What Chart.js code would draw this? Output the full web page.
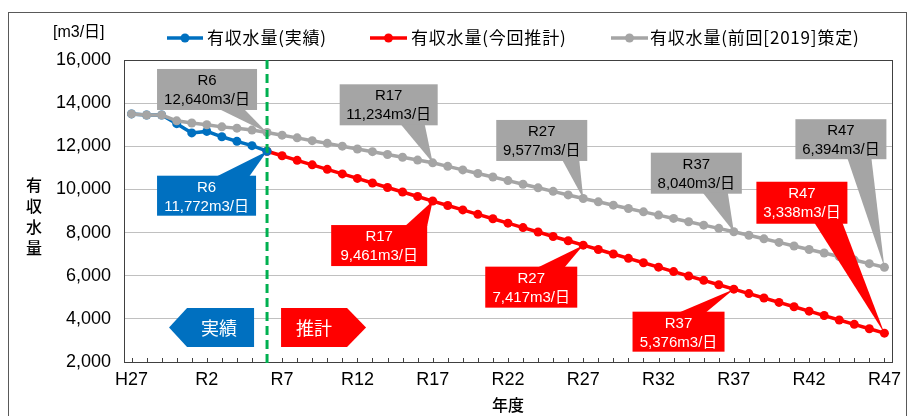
<!DOCTYPE html>
<html>
<head>
<meta charset="utf-8">
<script src="https://cdn.jsdelivr.net/npm/chart.js"></script>
<title>有収水量</title>
<style>
  body { margin: 0; background: #fff; }
</style>
</head>
<body>
<canvas id="myChart" width="908" height="416"></canvas>
<script>

// 年度 (H27 = 2015 ... R47 = 2065)
const years = ['H27','H28','H29','H30','R1','R2','R3','R4','R5','R6',
  'R7','R8','R9','R10','R11','R12','R13','R14','R15','R16',
  'R17','R18','R19','R20','R21','R22','R23','R24','R25','R26',
  'R27','R28','R29','R30','R31','R32','R33','R34','R35','R36',
  'R37','R38','R39','R40','R41','R42','R43','R44','R45','R46','R47'];
const xTickLabels = ['H27','R2','R7','R12','R17','R22','R27','R32','R37','R42','R47'];
const yTicks = [2000, 4000, 6000, 8000, 10000, 12000, 14000, 16000];

// 有収水量(実績) H27-R6
const actual = [13500, 13450, 13450, 13050, 12620, 12690, 12440, 12230, 12030, 11772];

// 有収水量(今回推計) R6-R47
const forecast = [11772, 11560, 11350, 11140, 10930, 10720, 10510, 10300, 10090, 9880,
  9670, 9461, 9255, 9050, 8845, 8640, 8435, 8230, 8025, 7820,
  7620, 7417, 7213, 7009, 6805, 6600, 6396, 6192, 5988, 5784,
  5580, 5376, 5172, 4968, 4764, 4560, 4357, 4153, 3949, 3745,
  3541, 3338];

// 有収水量(前回[2019]策定) H27-R47
const previous = [13500, 13450, 13450, 13180, 13080, 13000, 12900, 12840, 12750, 12640,
  12515, 12390, 12260, 12135, 12005, 11875, 11750, 11620, 11490, 11360,
  11234, 11070, 10905, 10740, 10575, 10410, 10240, 10075, 9910, 9745,
  9577, 9425, 9270, 9115, 8960, 8810, 8655, 8500, 8345, 8195,
  8040, 7875, 7710, 7545, 7380, 7215, 7055, 6890, 6725, 6560,
  6394];

const seriesNames = ['有収水量(実績)', '有収水量(今回推計)', '有収水量(前回[2019]策定)'];
const colors = ['#0070C0', '#FF0000', '#A5A5A5'];

const startR6 = years.indexOf('R6');
const actualData = actual.concat(Array(years.length - actual.length).fill(null));
const forecastData = Array(startR6).fill(null).concat(forecast);

// callout boxes: dataset, year, offset of box from point, size, pointer edge and base
const callouts = [
  { ds: 2, year: 'R6',  dx: -110, dy: -63.5, w: 100, h: 41, edge: 'bottom', b0: 62, b1: 87 },
  { ds: 2, year: 'R17', dx: -93,  dy: -78.5, w: 98,  h: 41, edge: 'bottom', b0: 61, b1: 85 },
  { ds: 2, year: 'R27', dx: -87,  dy: -78.6, w: 91,  h: 41, edge: 'bottom', b0: 66, b1: 83 },
  { ds: 2, year: 'R37', dx: -83,  dy: -79,   w: 91,  h: 41, edge: 'bottom', b0: 52, b1: 77 },
  { ds: 2, year: 'R47', dx: -89,  dy: -148,  w: 91,  h: 40, edge: 'bottom', b0: 52, b1: 76 },
  { ds: 0, year: 'R6',  dx: -110, dy: 24.5,  w: 99,  h: 40, edge: 'top',    b0: 59, b1: 92 },
  { ds: 1, year: 'R17', dx: -101.5, dy: 24,  w: 96,  h: 41, edge: 'top',    b0: 74, b1: 96 },
  { ds: 1, year: 'R27', dx: -98,  dy: 21.5,  w: 92,  h: 41, edge: 'top',    b0: 52, b1: 79 },
  { ds: 1, year: 'R37', dx: -101.3, dy: 22.5, w: 92, h: 40, edge: 'top',    b0: 46, b1: 73 },
  { ds: 1, year: 'R47', dx: -128, dy: -151.4, w: 91, h: 42, edge: 'bottom', b0: 58, b1: 86 }
];

const NARROW = '"Liberation Sans Narrow", "Liberation Sans", sans-serif';
const JP = '"Noto Sans CJK JP", sans-serif';
const MIX = '"Liberation Sans", "Noto Sans CJK JP", sans-serif';

const decor = {
  id: 'decor',
  beforeDraw(chart) {
    const c = chart.ctx;
    c.save();
    c.fillStyle = '#fff';
    c.fillRect(0, 0, chart.width, chart.height);
    c.strokeStyle = '#595959';
    c.lineWidth = 1;
    c.strokeRect(8.5, 12.5, 898, 420);
    c.restore();
  },
  afterDatasetsDraw(chart) {
    const c = chart.ctx;
    const a = chart.chartArea;
    const xs = chart.scales.x;
    c.save();

    // plot frame + inner minor ticks
    c.strokeStyle = '#404040';
    c.lineWidth = 1;
    c.strokeRect(Math.round(a.left) + 0.5, Math.round(a.top) + 0.5, Math.round(a.right - a.left), Math.round(a.bottom - a.top));
    c.beginPath();
    years.forEach((y, i) => {
      const px = Math.round(xs.getPixelForValue(i)) + 0.5;
      c.moveTo(px, a.bottom);
      c.lineTo(px, a.bottom - 4);
    });
    c.stroke();

    // 実績 / 推計 arrows
    const x6 = xs.getPixelForValue(startR6);
    const top = a.bottom - 54, h = 39, mid = top + h / 2;
    c.fillStyle = colors[0];
    c.beginPath();
    c.moveTo(x6 - 13, top); c.lineTo(x6 - 80, top); c.lineTo(x6 - 98, mid);
    c.lineTo(x6 - 80, top + h); c.lineTo(x6 - 13, top + h); c.closePath(); c.fill();
    c.fillStyle = colors[1];
    c.beginPath();
    c.moveTo(x6 + 14, top); c.lineTo(x6 + 80, top); c.lineTo(x6 + 99, mid);
    c.lineTo(x6 + 80, top + h); c.lineTo(x6 + 14, top + h); c.closePath(); c.fill();
    c.fillStyle = '#fff';
    c.font = '18px ' + JP;
    c.textAlign = 'center';
    c.textBaseline = 'middle';
    c.fillText('実績', x6 - 48, mid + 1);
    c.fillText('推計', x6 + 47, mid + 1);

    // green dashed divider at R6
    c.strokeStyle = '#00B050';
    c.lineWidth = 3;
    c.setLineDash([9, 5]);
    c.beginPath();
    c.moveTo(x6, a.top);
    c.lineTo(x6, a.bottom + 4);
    c.stroke();
    c.setLineDash([]);

    // callouts
    callouts.forEach(co => {
      const idx = years.indexOf(co.year);
      const pt = chart.getDatasetMeta(co.ds).data[idx];
      const value = chart.data.datasets[co.ds].data[idx];
      const bx = pt.x + co.dx, by = pt.y + co.dy;
      c.fillStyle = colors[co.ds];
      c.fillRect(bx, by, co.w, co.h);
      const ey = co.edge === 'bottom' ? by + co.h - 1 : by + 1;
      c.beginPath();
      c.moveTo(bx + co.b0, ey);
      c.lineTo(pt.x, pt.y);
      c.lineTo(bx + co.b1, ey);
      c.closePath();
      c.fill();
      c.fillStyle = co.ds === 2 ? '#000' : '#fff';
      c.font = '15px ' + MIX;
      c.textAlign = 'center';
      c.textBaseline = 'middle';
      c.fillText(co.year, bx + co.w / 2, by + 12);
      c.fillText(value.toLocaleString('en-US') + 'm3/日', bx + co.w / 2, by + 31);
    });
    c.restore();
  },
  afterDraw(chart) {
    const c = chart.ctx;
    c.save();
    c.fillStyle = '#000';
    c.textBaseline = 'middle';

    // unit
    c.font = '16px ' + MIX;
    c.textAlign = 'left';
    c.fillText('[m3/日]', 53, 33);

    // legend
    const legendPos = [[167, 203, 207], [370, 407, 411], [611, 648, 650]];
    seriesNames.forEach((name, i) => {
      const [l0, l1, tx] = legendPos[i];
      c.strokeStyle = colors[i];
      c.lineWidth = 3.5;
      c.beginPath(); c.moveTo(l0, 38); c.lineTo(l1, 38); c.stroke();
      c.fillStyle = colors[i];
      c.beginPath(); c.arc((l0 + l1) / 2, 38, 4.5, 0, Math.PI * 2); c.fill();
      c.fillStyle = '#000';
      c.font = '17px ' + JP;
      c.letterSpacing = '0.8px';
      c.fillText(name, tx, 38);
      c.letterSpacing = '0px';
    });

    // axis titles
    c.font = '500 16px ' + JP;
    c.textAlign = 'center';
    ['有', '収', '水', '量'].forEach((ch, i) => c.fillText(ch, 34, 185 + i * 21));
    c.fillText('年度', (chart.chartArea.left + chart.chartArea.right) / 2, 405);
    c.restore();
  }
};

const ctx = document.getElementById('myChart');
const chart = new Chart(ctx, {
  type: 'line',
  data: {
    labels: years,
    datasets: [
      { label: seriesNames[0], data: actualData, order: 1 },
      { label: seriesNames[1], data: forecastData, order: 1 },
      { label: seriesNames[2], data: previous, order: 0 }
    ].map((d, i) => Object.assign(d, {
      borderColor: colors[i],
      backgroundColor: colors[i],
      pointBackgroundColor: colors[i],
      pointBorderWidth: 0,
      pointRadius: 4.5,
      borderWidth: 3.5,
      tension: 0,
      spanGaps: false
    }))
  },
  options: {
    responsive: false,
    animation: false,
    events: [],
    layout: { padding: { left: 0, top: 60, right: 9, bottom: 0 } },
    plugins: {
      legend: { display: false },
      tooltip: { enabled: false }
    },
    scales: {
      x: {
        type: 'category',
        offset: true,
        grid: { display: false, drawTicks: false, tickLength: 0 },
        border: { display: false },
        ticks: {
          autoSkip: false,
          maxRotation: 0,
          padding: 7,
          color: '#000',
          font: { family: NARROW, size: 18 },
          callback: (v, i) => xTickLabels.includes(years[i]) ? years[i] : ''
        },
        afterFit: s => { s.height = 54; }
      },
      y: {
        min: 2000,
        max: 16000,
        afterBuildTicks: s => { s.ticks = yTicks.map(v => ({ value: v })); },
        grid: { color: '#c0c0c0', lineWidth: 1, drawTicks: false, tickLength: 0 },
        border: { display: false },
        ticks: {
          padding: 13,
          color: '#000',
          font: { family: NARROW, size: 18 },
          callback: v => v.toLocaleString('en-US')
        },
        afterFit: s => { s.width = 124; }
      }
    }
  },
  plugins: [decor]
});

</script>
</body>
</html>
